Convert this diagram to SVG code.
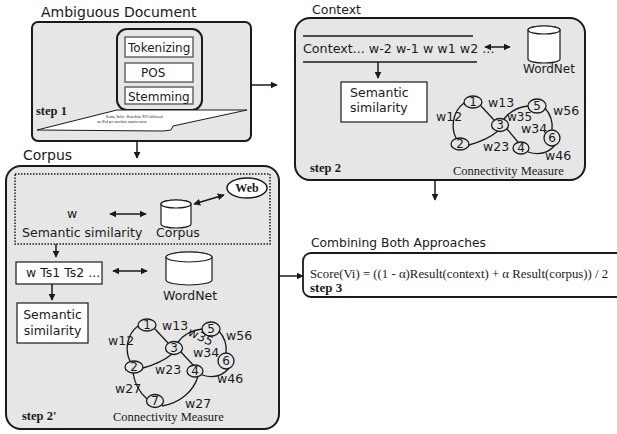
<svg xmlns="http://www.w3.org/2000/svg" width="617" height="434" viewBox="0 0 617 434">
  <defs>
    <style>
      .panel { fill: #e6e6e6; stroke: #1a1a1a; stroke-width: 2; }
      .white { fill: #ffffff; stroke: #1a1a1a; stroke-width: 1.2; }
      .step { fill: #ffffff; stroke: #666666; stroke-width: 1.5; }
      .sans { font-family: "DejaVu Sans", "Liberation Sans", sans-serif; fill: #1a1a1a; }
      .serif { font-family: "Liberation Serif", "DejaVu Serif", serif; fill: #1a1a1a; }
      .bold { font-weight: bold; }
      .line { fill: none; stroke: #1a1a1a; stroke-width: 1.3; }
      .arrow { fill: none; stroke: #1a1a1a; stroke-width: 1.5; marker-end: url(#head); }
      .both { fill: none; stroke: #1a1a1a; stroke-width: 1.5; marker-start: url(#head); marker-end: url(#head); }
      .gnode { fill: none; stroke: #1a1a1a; stroke-width: 1.3; }
    </style>
    <marker id="head" viewBox="0 0 10 10" refX="9" refY="5" markerWidth="7" markerHeight="7" markerUnits="userSpaceOnUse" orient="auto-start-reverse">
      <path d="M0,0 L10,5 L0,10 Z" fill="#1a1a1a"/>
    </marker>
  </defs>

  <!-- step 1: preprocessing of the ambiguous document -->
  <g id="step1">
    <text class="sans" x="41" y="17" font-size="14">Ambiguous Document</text>
    <rect class="panel" x="32" y="22" width="219" height="119" rx="6"/>
    <rect class="panel" x="117" y="29" width="85" height="81" rx="10"/>
    <rect class="step" x="125" y="37" width="68" height="20"/>
    <rect class="step" x="125" y="63" width="68" height="19"/>
    <rect class="step" x="125" y="87" width="68" height="17"/>
    <text class="sans" x="128" y="52" font-size="12">Tokenizing</text>
    <text class="sans" x="141" y="77" font-size="12">POS</text>
    <text class="sans" x="128" y="101" font-size="12">Stemming</text>
    <path d="M117,110 L247,110 L173,126 L171,130 L163,131 L37,130 Z" fill="#ffffff" stroke="#1a1a1a" stroke-width="1"/>
    <text class="serif" x="106" y="118" font-size="3.6">Roma, Italia - Benedetto XVI utilizzerà</text>
    <text class="serif" x="97" y="123" font-size="3.6">un iPod per ascoltare musica sacra</text>
    <text class="serif bold" x="36" y="115" font-size="12.5">step 1</text>
  </g>

  <!-- step 2: context based disambiguation -->
  <g id="context">
    <text class="sans" x="312" y="14" font-size="12.5">Context</text>
    <rect class="panel" x="295" y="18" width="290" height="162" rx="15"/>
    <line class="line" x1="303" y1="36" x2="473" y2="36"/>
    <line class="line" x1="303" y1="62" x2="477" y2="62"/>
    <text class="sans" x="303" y="53" font-size="12.7">Context... w-2 w-1 w w1 w2 ...</text>
    <g id="wordnet-context">
      <path class="white" d="M528,30 A16,4 0 0 1 560,30 V59 A16,4 0 0 1 528,59 Z"/>
      <ellipse class="white" cx="544" cy="30" rx="16" ry="4"/>
      <text class="sans" x="523" y="73" font-size="12">WordNet</text>
    </g>
    <g id="semantic-context">
      <rect class="white" x="341" y="82" width="86" height="40"/>
      <text class="sans" x="350" y="97" font-size="12.5">Semantic</text>
      <text class="sans" x="350" y="112" font-size="12.5">similarity</text>
    </g>
    <g id="graph-context">
      <path class="line" d="M464,103 C452,112 451,128 456,138"/>
      <path class="line" d="M481,106 L494,120"/>
      <path class="line" d="M469,145 C480,142 492,136 498,131"/>
      <path class="line" d="M504,119 C510,111 519,107 528,106"/>
      <path class="line" d="M507,129 L518,142"/>
      <path class="line" d="M545,108 C551,115 553,122 552,130"/>
      <path class="line" d="M528,152 C538,155 548,154 555,145"/>
      <ellipse class="gnode" cx="473" cy="102" rx="9" ry="6"/>
      <ellipse class="gnode" cx="500" cy="125" rx="8.5" ry="6.5"/>
      <ellipse class="gnode" cx="537" cy="106" rx="9" ry="7"/>
      <circle class="gnode" cx="552" cy="138" r="8"/>
      <ellipse class="gnode" cx="460" cy="144" rx="9" ry="6"/>
      <ellipse class="gnode" cx="521" cy="148" rx="8" ry="6"/>
      <g class="sans" font-size="12" text-anchor="middle">
        <text x="473" y="106">1</text>
        <text x="500" y="129">3</text>
        <text x="537" y="110">5</text>
        <text x="552" y="142">6</text>
        <text x="460" y="148">2</text>
        <text x="521" y="152">4</text>
      </g>
      <g class="sans" font-size="12.5">
        <text x="488" y="107">w13</text>
        <text x="436" y="121">w12</text>
        <text x="507" y="121" font-size="12">w35</text>
        <text x="553" y="115">w56</text>
        <text x="521" y="133">w34</text>
        <text x="483" y="151">w23</text>
        <text x="545" y="160">w46</text>
      </g>
    </g>
    <text class="serif" x="453" y="175" font-size="12.5">Connectivity Measure</text>
    <text class="serif bold" x="310" y="172" font-size="12.5">step 2</text>
  </g>

  <!-- step 2': corpus based disambiguation -->
  <g id="corpus">
    <text class="sans" x="23" y="160" font-size="14">Corpus</text>
    <rect class="panel" x="6" y="166" width="273" height="263" rx="15"/>
    <rect x="15" y="174" width="255" height="70" fill="none" stroke="#1a1a1a" stroke-width="1.5" stroke-dasharray="1.5,1.5"/>
    <text class="sans" x="67" y="218" font-size="12.5">w</text>
    <text class="sans" x="22" y="237" font-size="12.5">Semantic similarity</text>
    <g id="corpus-store">
      <path class="white" d="M161,204 A15,4 0 0 1 191,204 V224 A15,4 0 0 1 161,224 Z"/>
      <ellipse class="white" cx="176" cy="204" rx="15" ry="4"/>
      <text class="sans" x="156" y="237" font-size="12.5">Corpus</text>
    </g>
    <g id="web">
      <ellipse cx="247" cy="188" rx="20" ry="10" fill="#ffffff" stroke="#1a1a1a" stroke-width="1.5"/>
      <text class="serif bold" x="247" y="192" font-size="12" text-anchor="middle">Web</text>
    </g>
    <g id="senses">
      <rect class="white" x="16" y="262" width="86" height="22"/>
      <text class="sans" x="26" y="277" font-size="12.5">w Ts1 Ts2 ...</text>
    </g>
    <g id="wordnet-corpus">
      <path class="white" d="M166,257 A23,5 0 0 1 212,257 V280 A23,5 0 0 1 166,280 Z"/>
      <ellipse class="white" cx="189" cy="257" rx="23" ry="5"/>
      <text class="sans" x="163" y="300" font-size="12.5">WordNet</text>
    </g>
    <g id="semantic-corpus">
      <rect class="white" x="17" y="303" width="71" height="40"/>
      <text class="sans" x="52.5" y="319" font-size="12.5" text-anchor="middle">Semantic</text>
      <text class="sans" x="52.5" y="335" font-size="12.5" text-anchor="middle">similarity</text>
    </g>
    <g id="graph-corpus" transform="translate(-326,223)">
      <path class="line" d="M464,103 C452,112 451,128 456,138"/>
      <path class="line" d="M481,106 L494,120"/>
      <path class="line" d="M469,145 C480,142 492,136 498,131"/>
      <path class="line" d="M504,119 C510,111 519,107 528,106"/>
      <path class="line" d="M507,129 L520,143"/>
      <path class="line" d="M545,108 C551,115 553,122 552,130"/>
      <path class="line" d="M528,152 C538,155 548,154 555,145"/>
      <path class="line" d="M459,150 C461,162 466,170 473,176"/>
      <path class="line" d="M524,153 C520,168 506,180 488,183"/>
      <ellipse class="gnode" cx="473" cy="102" rx="9" ry="6"/>
      <ellipse class="gnode" cx="500" cy="125" rx="8.5" ry="6.5"/>
      <ellipse class="gnode" cx="537" cy="106" rx="9" ry="7"/>
      <circle class="gnode" cx="552" cy="138" r="8"/>
      <ellipse class="gnode" cx="460" cy="144" rx="9" ry="6"/>
      <ellipse class="gnode" cx="521" cy="148" rx="8" ry="6"/>
      <ellipse class="gnode" cx="481" cy="178" rx="8.5" ry="6.5"/>
      <g class="sans" font-size="12" text-anchor="middle">
        <text x="473" y="106">1</text>
        <text x="500" y="129">3</text>
        <text x="537" y="110">5</text>
        <text x="552" y="142">6</text>
        <text x="460" y="148">2</text>
        <text x="521" y="152">4</text>
        <text x="481" y="182">7</text>
      </g>
      <g class="sans" font-size="12.5">
        <text x="488" y="107">w13</text>
        <text x="434" y="122">w12</text>
        <text x="513" y="112" transform="rotate(25 513 112)">w35</text>
        <text x="552" y="117">w56</text>
        <text x="519" y="134">w34</text>
        <text x="481" y="151">w23</text>
        <text x="543" y="160">w46</text>
        <text x="441" y="170">w27</text>
        <text x="511" y="185">w27</text>
      </g>
    </g>
    <text class="serif" x="113" y="421" font-size="12.5">Connectivity Measure</text>
    <text class="serif bold" x="22" y="420" font-size="12.5">step 2'</text>
  </g>

  <!-- step 3: combination of both scores -->
  <g id="combined">
    <text class="sans" x="311" y="247" font-size="12.3">Combining Both Approaches</text>
    <rect x="303" y="253" width="330" height="44" rx="8" fill="#ffffff" stroke="#1a1a1a" stroke-width="1.8"/>
    <text class="serif" x="310" y="278" font-size="12.8">Score(Vi) = ((1 - α)Result(context) + α Result(corpus)) / 2</text>
    <text class="serif bold" x="310" y="292" font-size="13">step 3</text>
  </g>

  <!-- connectors -->
  <g id="connectors">
    <line class="arrow" x1="251" y1="85" x2="277" y2="85"/>
    <line class="arrow" x1="137" y1="141" x2="137" y2="158"/>
    <line class="arrow" x1="435" y1="180" x2="435" y2="200"/>
    <line class="arrow" x1="279" y1="276" x2="303" y2="276"/>
    <line class="both" x1="485" y1="47" x2="510" y2="47"/>
    <line class="arrow" x1="378" y1="62" x2="378" y2="78"/>
    <line class="both" x1="110" y1="214" x2="146" y2="214"/>
    <line class="both" x1="194" y1="204" x2="224" y2="195"/>
    <line class="arrow" x1="56" y1="244" x2="56" y2="257"/>
    <line class="both" x1="113" y1="271" x2="147" y2="271"/>
    <line class="arrow" x1="52" y1="284" x2="52" y2="300"/>
  </g>
</svg>
